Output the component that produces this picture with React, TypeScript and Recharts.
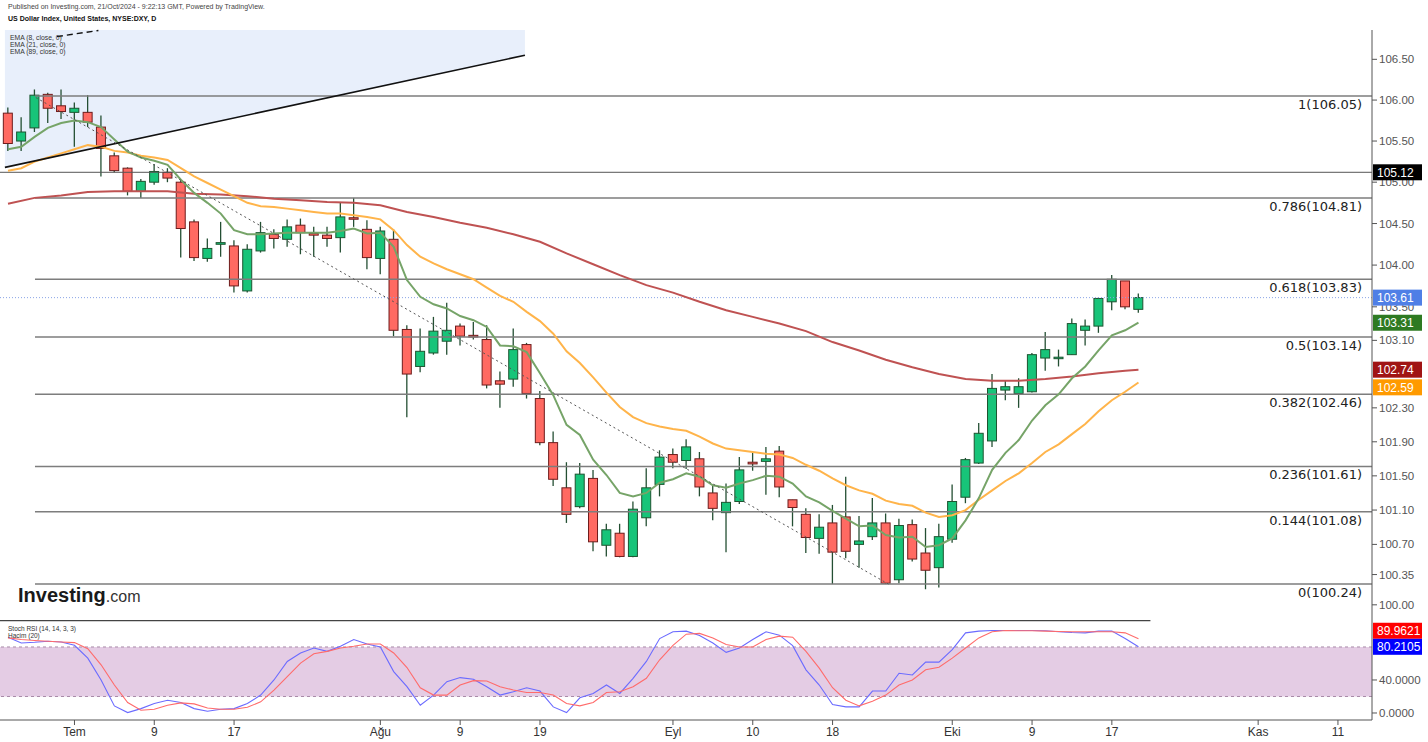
import React from 'react';
import { ComposedChart, Bar, Line, Area, XAxis, YAxis, ReferenceLine, ReferenceArea } from 'recharts';

// ---------- data (trading-day index 0 = 24 Jun 2024 ... 85 = 21 Oct 2024) ----------
const opens = [105.84, 105.50, 105.66, 106.07, 105.93, 105.85, 105.85, 105.67, 105.32, 105.17,
  104.89, 105.00, 105.12, 105.00, 104.52, 104.08, 104.25, 104.23, 103.69, 104.17,
  104.37, 104.31, 104.48, 104.38, 104.36, 104.33, 104.57, 104.43, 104.08, 104.31,
  103.23, 102.79, 102.95, 103.09, 103.27, 103.16, 103.11, 102.62, 102.64, 103.05,
  102.41, 101.89, 101.36, 101.14, 101.47, 100.69, 100.83, 100.56, 101.01, 101.40,
  101.75, 101.68, 101.70, 101.30, 101.07, 101.20, 101.66, 101.67, 101.79, 101.22,
  101.05, 100.77, 100.95, 101.02, 100.70, 100.79, 100.95, 100.29, 100.93, 100.60,
  100.43, 100.76, 101.25, 101.65, 101.91, 102.51, 102.47, 102.49, 102.89, 102.89,
  102.93, 103.22, 103.27, 103.56, 103.81, 103.47];
const highs = [105.91, 105.79, 106.13, 106.09, 106.13, 105.97, 106.06, 105.81, 105.36, 105.18,
  105.04, 105.22, 105.17, 105.03, 104.55, 104.32, 104.52, 104.30, 104.25, 104.52,
  104.43, 104.55, 104.56, 104.46, 104.46, 104.76, 104.81, 104.54, 104.46, 104.43,
  103.28, 103.24, 103.38, 103.55, 103.30, 103.32, 103.28, 102.73, 103.24, 103.07,
  102.50, 102.02, 101.66, 101.65, 101.57, 100.94, 100.94, 101.20, 101.59, 101.80,
  101.82, 101.93, 101.78, 101.39, 101.41, 101.72, 101.78, 101.84, 101.85, 101.22,
  101.12, 101.05, 101.16, 101.49, 101.03, 101.24, 101.06, 101.00, 100.99, 100.89,
  100.94, 101.40, 101.71, 102.12, 102.70, 102.63, 102.65, 102.95, 103.20, 102.99,
  103.36, 103.35, 103.61, 103.88, 103.81, 103.66];
const lows = [105.38, 105.38, 105.61, 105.72, 105.77, 105.43, 105.67, 105.07, 105.12, 104.84,
  104.81, 104.97, 105.00, 104.09, 104.05, 104.04, 104.10, 103.67, 103.67, 104.15,
  104.20, 104.22, 104.13, 104.10, 104.22, 104.15, 104.46, 103.95, 103.89, 103.15,
  102.19, 102.72, 102.93, 102.93, 103.04, 103.11, 102.53, 102.30, 102.55, 102.41,
  101.86, 101.38, 100.95, 101.12, 100.62, 100.56, 100.55, 100.55, 100.91, 101.26,
  101.59, 101.58, 101.26, 100.98, 100.61, 101.17, 101.56, 101.28, 101.25, 100.91,
  100.60, 100.59, 100.24, 100.54, 100.43, 100.75, 100.24, 100.25, 100.50, 100.18,
  100.20, 100.72, 101.18, 101.64, 101.84, 102.39, 102.30, 102.48, 102.74, 102.79,
  102.93, 103.04, 103.19, 103.46, 103.47, 103.43];
const closes = [105.47, 105.61, 106.06, 105.90, 105.86, 105.90, 105.73, 105.41, 105.14, 104.89,
  105.01, 105.13, 105.05, 104.44, 104.09, 104.20, 104.27, 103.75, 104.19, 104.39,
  104.32, 104.46, 104.39, 104.36, 104.32, 104.58, 104.56, 104.09, 104.41, 103.22,
  102.70, 102.97, 103.21, 103.22, 103.15, 103.14, 102.57, 102.58, 102.99, 102.47,
  101.89, 101.46, 101.05, 101.52, 100.73, 100.87, 100.56, 101.11, 101.36, 101.72,
  101.66, 101.84, 101.37, 101.12, 101.19, 101.57, 101.64, 101.70, 101.37, 101.13,
  100.78, 100.90, 100.61, 100.62, 100.74, 100.95, 100.25, 100.92, 100.53, 100.40,
  100.79, 101.20, 101.69, 102.00, 102.53, 102.55, 102.55, 102.93, 102.99, 102.90,
  103.30, 103.27, 103.60, 103.83, 103.50, 103.61];

const ema8 = [105.40, 105.43, 105.55, 105.66, 105.72, 105.75, 105.73, 105.67, 105.52, 105.37,
  105.30, 105.26, 105.21, 105.03, 104.87, 104.75, 104.62, 104.42, 104.37, 104.37,
  104.38, 104.39, 104.39, 104.39, 104.39, 104.41, 104.44, 104.38, 104.39, 104.22,
  103.82, 103.62, 103.53, 103.48, 103.39, 103.34, 103.26, 103.04, 103.03, 102.96,
  102.71, 102.45, 102.10, 101.98, 101.69, 101.51, 101.30, 101.26, 101.30, 101.42,
  101.46, 101.53, 101.49, 101.39, 101.36, 101.41, 101.45, 101.50, 101.49, 101.41,
  101.26, 101.19, 101.09, 101.00, 100.91, 100.92, 100.81, 100.78, 100.79, 100.67,
  100.69, 100.77, 100.98, 101.24, 101.57, 101.77, 101.92, 102.15, 102.33, 102.46,
  102.65, 102.79, 102.98, 103.16, 103.22, 103.31];
const ema21 = [105.14, 105.17, 105.25, 105.30, 105.35, 105.40, 105.45, 105.43, 105.38, 105.36,
  105.32, 105.30, 105.27, 105.17, 105.07, 104.99, 104.91, 104.83, 104.75, 104.71,
  104.70, 104.68, 104.66, 104.64, 104.62, 104.62, 104.60, 104.58, 104.55, 104.42,
  104.24, 104.10, 104.02, 103.95, 103.89, 103.83, 103.73, 103.63, 103.56, 103.44,
  103.33, 103.18, 102.97, 102.83, 102.66, 102.48, 102.31, 102.19, 102.12, 102.08,
  102.05, 102.03, 101.96, 101.88, 101.82, 101.80, 101.78, 101.76, 101.75, 101.71,
  101.63, 101.56, 101.47, 101.39, 101.33, 101.29, 101.21, 101.17, 101.15, 101.07,
  101.02, 101.04, 101.10, 101.22, 101.33, 101.44, 101.53, 101.65, 101.78, 101.87,
  101.99, 102.11, 102.26, 102.39, 102.49, 102.60];
const ema89 = [104.74, null, 104.81, null, 104.84, null, 104.88, null, 104.89, null,
  104.89, null, 104.89, null, 104.86, null, 104.85, null, 104.83, null,
  104.80, null, 104.78, null, 104.76, null, 104.75, null, 104.72, null,
  104.64, null, 104.58, null, 104.51, null, 104.45, null, 104.37, null,
  104.28, null, 104.14, null, 104.01, null, 103.88, null, 103.76, null,
  103.67, null, 103.56, null, 103.46, null, 103.38, null, 103.30, null,
  103.21, null, 103.08, null, 102.98, null, 102.87, null, 102.78, null,
  102.70, null, 102.64, null, 102.62, null, 102.62, null, 102.64, null,
  102.67, null, 102.71, null, 102.74, 102.75];

const stochK = [91.8, 84.9, 85.7, 86.9, 86.1, 82, 66.5, 40, 8.6, 0.5,
  5.3, 11.5, 15.5, 12.7, 5.3, 2.1, 4.5, 5.3, 11.5, 21.7,
  40, 62.5, 72.7, 78.8, 74.7, 80.8, 89, 83.7, 80, 50.2,
  31.9, 9.4, 21.7, 38, 42.9, 40.8, 31.9, 21.7, 25.7, 30.6,
  26.6, 7.4, 0.5, 18.4, 23.7, 33.9, 23.7, 42, 62.5, 90.2,
  98.4, 99.2, 94, 84.9, 73.5, 78.8, 89, 98.4, 94.3, 81.6,
  52.3, 33.9, 10.2, 7.4, 7.4, 26.6, 26.6, 48.2, 46.1, 61.6,
  61.6, 76.7, 97.1, 99.2, 100, 100, 100, 100, 99.6, 98.4,
  97.5, 97.1, 99.2, 99.2, 90.2, 80.21];
const stochD = [91, 89, 87.8, 86.9, 86.1, 85.3, 78, 58.4, 33.9, 12.7,
  3.3, 4.5, 9.4, 12.3, 11, 6.1, 4.5, 4.5, 7, 13.5,
  27.8, 44.1, 60.4, 71.8, 74.7, 78.8, 80.8, 83.7, 83.7, 72.7,
  55.1, 30.6, 21.7, 21.7, 33.9, 39.2, 38.8, 31.9, 27.8, 24.9,
  24.9, 21.7, 11.5, 8.6, 12.7, 24.9, 25.7, 31.9, 42, 64.5,
  82, 95.5, 96.5, 91, 82.9, 80, 80, 89, 93.1, 91.8,
  74.7, 54.3, 30.6, 15.5, 8.6, 14.3, 21.7, 33.9, 40, 52.3,
  55.5, 66.5, 78.8, 91, 98.4, 100, 99.6, 99.6, 99.2, 98.8,
  98.4, 98.4, 98.4, 98.4, 97.1, 89.96];

const tickIdx = [5, 11, 17, 28, 34, 40, 50, 56, 62, 71, 77, 83, 94, 100];
const tickLabels = ['Tem', '9', '17', 'Ağu', '9', '19', 'Eyl', '10', '18', 'Eki', '9', '17', 'Kas', '11'];
const priceTicks = [100, 100.35, 100.7, 101.1, 101.5, 101.9, 102.3, 103.1, 103.5, 104, 104.5, 105, 105.5, 106, 106.5];
const rsiTicks = [0, 40];

const fibRatios = ['1', '0.786', '0.618', '0.5', '0.382', '0.236', '0.144', '0'];
const fibValues = [106.05, 104.81, 103.83, 103.14, 102.46, 101.61, 101.08, 100.24];
const fibStartIdx = 2.03;

const lastPrice = 103.61;
const resistanceLevel = 105.12;
const priceTagValues = [105.12, 103.61, 103.31, 102.74, 102.59];
const priceTagColors = ['#000000', '#4f7fe6', '#2e7a22', '#a01414', '#ff9a00'];
const priceTagShift = [0, 0, 0, -1, 4];
const rsiTagValues = [89.9621, 80.2105];
const rsiTagColors = ['#ff0000', '#0000ff'];
const rsiTagShift = [-8, 0];

// drawn lines (index, price)
const channelIdx = [-0.23, 38.87];
const channelPrice = [105.18, 106.55];
const upperDashIdx = [3.68, 6.8];
const upperDashPrice = [106.78, 106.855];
const diagIdx = [2.1, 66.2];
const diagPrice = [106.03, 100.24];

// ---------- layout ----------
const W = 1428;
const X_DOMAIN: [number, number] = [-0.6, 102.56];
const PRICE_DOMAIN: [number, number] = [99.825, 106.861];
const RSI_DOMAIN: [number, number] = [-8.5, 112.7];

const rows = opens.map((o, i) => ({
  i, o, h: highs[i], l: lows[i], c: closes[i], hl: [lows[i], highs[i]],
  e8: ema8[i], e21: ema21[i], e89: ema89[i], k: stochK[i], d: stochD[i],
}));

const shadeRows = channelIdx.map((x, j) => ({ i: x, band: [channelPrice[j], PRICE_DOMAIN[1]] }));

const GREEN = '#17c479';
const GREEN_EDGE = '#1d5430';
const RED = '#ff6a62';
const RED_EDGE = '#6e1c1c';
const WICK = '#244f33';

const Candle = (props: any) => {
  const { x, y, width, height, payload } = props;
  if (!payload || payload.o == null || x == null) return null;
  const { o, h, l, c } = payload;
  const top = Math.min(y, y + height);
  const hh = Math.abs(height);
  const lh = Math.log(h);
  const span = lh - Math.log(l);
  const yOf = (v: number) => (span > 0 ? top + (hh * (lh - Math.log(v))) / span : top);
  const cx = x + width / 2;
  const up = c >= o;
  const bt = yOf(Math.max(o, c));
  const bb = yOf(Math.min(o, c));
  const bh = Math.max(bb - bt, 1.5);
  return (
    <g>
      <line x1={cx} x2={cx} y1={top} y2={top + hh} stroke={WICK} strokeWidth={1.3} />
      <rect x={cx - 4.5} y={bt} width={9} height={bh} fill={up ? GREEN : RED} stroke={up ? GREEN_EDGE : RED_EDGE} strokeWidth={1} />
    </g>
  );
};

const fibLabel = (text: string) => (props: any) => {
  const vb = props.viewBox || {};
  return (
    <text x={(vb.x ?? 0) + (vb.width ?? 0) - 10} y={(vb.y ?? 0) + 13} textAnchor="end"
      fontFamily="DejaVu Sans, sans-serif" fontSize={13} fill="#222">{text}</text>
  );
};

const tag = (text: string, bg: string, dy: number) => (props: any) => {
  const vb = props.viewBox || {};
  const x = (vb.x ?? 0) + (vb.width ?? 0) + 1;
  const y = (vb.y ?? 0) + dy;
  return (
    <g>
      <rect x={x} y={y - 8} width={49} height={16} fill={bg} />
      <text x={x + 4} y={y + 4.5} fill="#fff" fontSize={12} fontFamily="Liberation Sans, Arial, sans-serif">{text}</text>
    </g>
  );
};

const abs = (extra: React.CSSProperties = {}): React.CSSProperties => ({ position: 'absolute', left: 0, top: 0, ...extra });

export default function App() {
  return (
    <div style={{ position: 'absolute', left: 0, top: 0, width: W, height: 742, background: '#fff', overflow: 'hidden', fontFamily: '"Liberation Sans", Arial, sans-serif' }}>
      {/* background shading of the channel */}
      <div style={abs()}>
        <ComposedChart width={W} height={620} data={shadeRows} margin={{ top: 30, right: 56, bottom: 0, left: 0 }}>
          <XAxis type="number" dataKey="i" domain={X_DOMAIN} hide allowDataOverflow />
          <YAxis hide scale="log" domain={PRICE_DOMAIN} allowDataOverflow />
          <Area dataKey="band" type="linear" stroke="none" fill="#e8effb" fillOpacity={1} isAnimationActive={false} />
        </ComposedChart>
      </div>

      {/* main price panel */}
      <div style={abs()}>
        <ComposedChart width={W} height={620} data={rows} margin={{ top: 30, right: 0, bottom: 0, left: 0 }}>
          <XAxis type="number" dataKey="i" domain={X_DOMAIN} hide allowDataOverflow />
          <YAxis orientation="right" width={56} scale="log" domain={PRICE_DOMAIN} allowDataOverflow
            ticks={priceTicks} interval={0} tickFormatter={(v: number) => v.toFixed(2)}
            tick={{ fontSize: 11.5, fill: '#555' }} tickSize={5} tickLine={{ stroke: '#555' }} axisLine={{ stroke: '#555' }} />
          <ReferenceLine y={resistanceLevel} stroke="#555" strokeWidth={1} />
          <ReferenceLine y={lastPrice} stroke="#8aa4e6" strokeWidth={1} strokeDasharray="1 2" />
          {fibValues.map((v, j) => (
            <ReferenceLine key={'f' + j} segment={[{ x: fibStartIdx, y: v }, { x: X_DOMAIN[1], y: v }]}
              stroke="#7d7d7d" strokeWidth={1.5} label={fibLabel(`${fibRatios[j]}(${v.toFixed(2)})`)} />
          ))}
          <Bar dataKey="hl" barSize={9} shape={(p: any) => <Candle {...p} />} isAnimationActive={false} />
          <Line dataKey="e89" type="linear" stroke="#bf5252" strokeWidth={2} dot={false} connectNulls isAnimationActive={false} />
          <Line dataKey="e21" type="linear" stroke="#ffb44a" strokeWidth={2} dot={false} isAnimationActive={false} />
          <Line dataKey="e8" type="linear" stroke="#76a468" strokeWidth={2} dot={false} isAnimationActive={false} />
          <ReferenceLine segment={[{ x: channelIdx[0], y: channelPrice[0] }, { x: channelIdx[1], y: channelPrice[1] }]} stroke="#111" strokeWidth={1.6} />
          <ReferenceLine segment={[{ x: upperDashIdx[0], y: upperDashPrice[0] }, { x: upperDashIdx[1], y: upperDashPrice[1] }]} stroke="#111" strokeWidth={1.4} strokeDasharray="6 4" />
          <ReferenceLine segment={[{ x: diagIdx[0], y: diagPrice[0] }, { x: diagIdx[1], y: diagPrice[1] }]} stroke="#555" strokeWidth={1} strokeDasharray="2 3" />
        </ComposedChart>
      </div>

      {/* price tags on the axis */}
      <div style={abs()}>
        <ComposedChart width={W} height={620} data={rows} margin={{ top: 30, right: 56, bottom: 0, left: 0 }}>
          <XAxis type="number" dataKey="i" domain={X_DOMAIN} hide allowDataOverflow />
          <YAxis hide scale="log" domain={PRICE_DOMAIN} allowDataOverflow />
          {priceTagValues.map((v, j) => (
            <ReferenceLine key={'t' + j} y={v} stroke="none" label={tag(v.toFixed(2), priceTagColors[j], priceTagShift[j])} />
          ))}
        </ComposedChart>
      </div>

      {/* stochastic RSI panel */}
      <div style={abs({ top: 620 })}>
        <ComposedChart width={W} height={122} data={rows} margin={{ top: 0, right: 0, bottom: 0, left: 0 }}>
          <XAxis type="number" dataKey="i" domain={X_DOMAIN} allowDataOverflow ticks={tickIdx} interval={0}
            tickFormatter={(v: number) => tickLabels[tickIdx.indexOf(v)] ?? ''} height={22}
            tick={{ fontSize: 12, fill: '#333' }} tickSize={5} tickLine={{ stroke: '#555' }} axisLine={{ stroke: '#555' }} />
          <YAxis orientation="right" width={56} domain={RSI_DOMAIN} allowDataOverflow ticks={rsiTicks} interval={0}
            tickFormatter={(v: number) => v.toFixed(4)} tick={{ fontSize: 11.5, fill: '#555' }} tickSize={5}
            tickLine={{ stroke: '#555' }} axisLine={{ stroke: '#555' }} />
          <ReferenceArea y1={20} y2={80} fill="#e4cce4" fillOpacity={1} stroke="none" />
          <ReferenceLine y={80} stroke="#a88aa8" strokeDasharray="3 3" />
          <ReferenceLine y={20} stroke="#a88aa8" strokeDasharray="3 3" />
          <ReferenceLine segment={[{ x: X_DOMAIN[0], y: 112 }, { x: 85.9, y: 112 }]} stroke="#444" strokeWidth={1.5} />
          <Line dataKey="k" type="linear" stroke="#6b6bff" strokeWidth={1.1} dot={false} isAnimationActive={false} />
          <Line dataKey="d" type="linear" stroke="#ff6b6b" strokeWidth={1.1} dot={false} isAnimationActive={false} />
          {rsiTagValues.map((v, j) => (
            <ReferenceLine key={'r' + j} y={v} stroke="none" label={tag(v.toFixed(4), rsiTagColors[j], rsiTagShift[j])} />
          ))}
        </ComposedChart>
      </div>

      {/* texts */}
      <div style={abs({ left: 8, top: 3, fontSize: 7, color: '#444', whiteSpace: 'nowrap' })}>
        Published on Investing.com, 21/Oct/2024 - 9:22:13 GMT, Powered by TradingView.
      </div>
      <div style={abs({ left: 8, top: 15, fontSize: 7, fontWeight: 'bold', color: '#111', whiteSpace: 'nowrap' })}>
        US Dollar Index, United States, NYSE:DXY, D
      </div>
      <div style={abs({ left: 10, top: 34, fontSize: 6.8, color: '#333', lineHeight: '7px', whiteSpace: 'nowrap' })}>
        <div>EMA (8, close, 0)</div>
        <div>EMA (21, close, 0)</div>
        <div>EMA (89, close, 0)</div>
      </div>
      <div style={abs({ left: 18, top: 583, color: '#1a1a1a', whiteSpace: 'nowrap', lineHeight: '24px' })}>
        <span style={{ fontSize: 20, fontWeight: 'bold' }}>Investing</span>
        <span style={{ fontSize: 16, color: '#333' }}>.com</span>
      </div>
      <div style={abs({ left: 8, top: 625, fontSize: 6.5, color: '#333', lineHeight: '7px', whiteSpace: 'nowrap' })}>
        <div>Stoch RSI (14, 14, 3, 3)</div>
        <div>Hacim (20)</div>
      </div>
    </div>
  );
}
